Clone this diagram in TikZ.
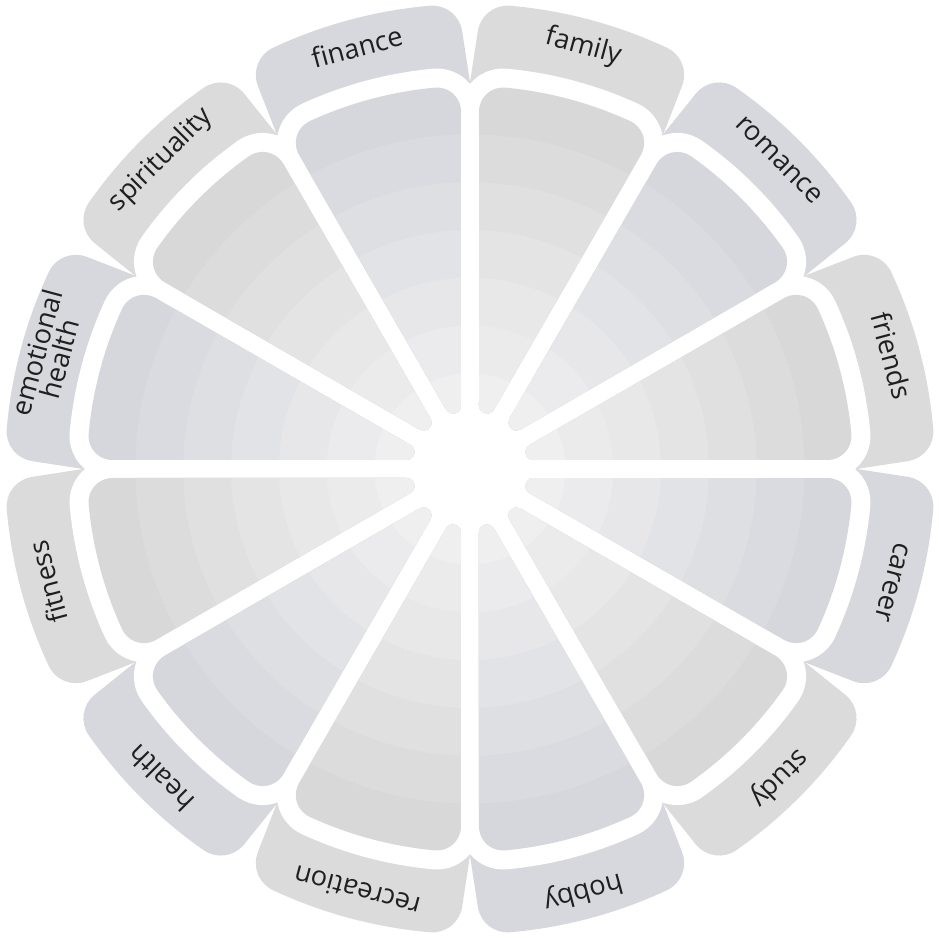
\documentclass[tikz,border=0pt]{standalone}
\usepackage{fontspec}
\newfontfamily\areafont{Open Sans}

\definecolor{tabneu}{RGB}{219,219,219}
\definecolor{tabblu}{RGB}{215,216,222}
\definecolor{ringneu}{RGB}{216,216,216}
\definecolor{ringblu}{RGB}{214,215,221}
\definecolor{ringmid}{RGB}{243,243,243}

\newcommand{\tabcore}{(6.487,1.291) -- (10.05:8.70) arc (10.05:-10.05:8.70) -- (6.487,-1.291) -- cycle}
\newcommand{\slicepath}{(13.558:7.152) arc (105:9.726:0.48) arc (9.726:-9.726:7.66) arc (-9.726:-105:0.48) -- (1.2724,-0.1546) arc (255:105:0.16) -- cycle}

\tikzset{
  tabfill/.style={fill=tab#1, draw=tab#1, line width=1.2cm, line join=round},
  whiteband/.style={draw=white, line width=0.76cm, line join=round},
  arealabel/.style={font=\areafont\fontsize{15.5}{13.5}\selectfont, text=black!88, align=center, inner sep=0pt}
}

\begin{document}
\begin{tikzpicture}
  \fill[white] (-9.40,-9.38) rectangle (9.38,9.38);
  \useasboundingbox (-9.40,-9.38) rectangle (9.38,9.38);

  \foreach \a/\tone in {75/neu,45/blu,15/neu,-15/blu,-45/neu,-75/blu,-105/neu,-135/blu,-165/neu,-195/blu,-225/neu,-255/blu}
    \path[tabfill=\tone, rotate=\a] \tabcore;

  \foreach \a in {75,45,...,-255}
    \draw[whiteband, rotate=\a] \slicepath;

  \foreach \a/\tone/\lbl [count=\i] in {75/neu/family,45/blu/romance,15/neu/friends,-15/blu/career,-45/neu/study,-75/blu/hobby,-105/neu/recreation,-135/blu/health,-165/neu/fitness,-195/blu/{emotional\\health},-225/neu/spirituality,-255/blu/finance} {
    \begin{scope}
      \clip[rotate=\a] \slicepath;
      \fill[ring\tone] (0,0) circle (8);
      \foreach \k [evaluate=\k as \p using {int((\k-1)*100/7)}] in {7,...,1}
        \fill[ring\tone!\p!ringmid] (0,0) circle ({\k*0.956});
    \end{scope}
    \node[arealabel, rotate=\a-90] (area\i) at (\a:8.74) {\lbl};
  }
\end{tikzpicture}
\end{document}
